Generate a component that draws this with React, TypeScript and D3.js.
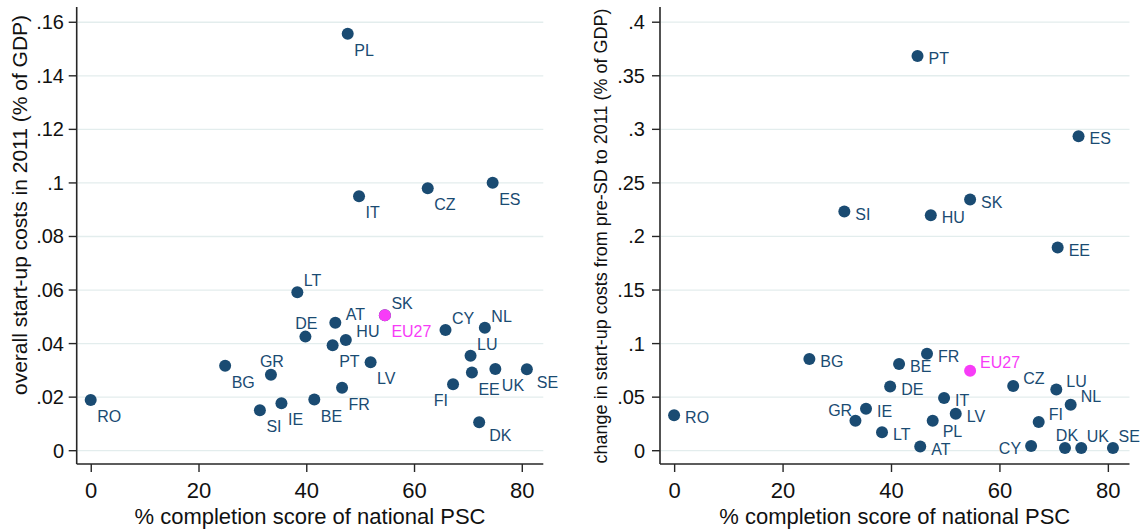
import React from 'react';
import * as d3 from 'd3';

// ---------- DATA ----------
const countries = ['RO','BG','SI','GR','IE','LT','DE','BE','PT','AT','FR','HU','PL','IT','LV','SK','CZ','CY','FI','LU','EE','DK','NL','ES','UK','SE','EU27'];
const pscScore = [-0.1, 24.85, 31.3, 33.35, 35.3, 38.25, 39.75, 41.4, 44.8, 45.3, 46.55, 47.25, 47.6, 49.7, 51.85, 54.5, 62.45, 65.75, 67.15, 70.4, 70.65, 72.0, 73.05, 74.5, 75.0, 80.85, 54.5];
const startupCost2011 = [0.0189, 0.0317, 0.0151, 0.0284, 0.0177, 0.0592, 0.0426, 0.0191, 0.0394, 0.0478, 0.0235, 0.0413, 0.1557, 0.0950, 0.0330, 0.0506, 0.0980, 0.0451, 0.0248, 0.0355, 0.0292, 0.0106, 0.0459, 0.1001, 0.0305, 0.0304, 0.0506];
const startupCostChange = [0.0330, 0.0856, 0.2233, 0.0280, 0.0392, 0.0172, 0.0600, 0.0810, 0.3685, 0.0040, 0.0905, 0.2199, 0.0280, 0.0491, 0.0346, 0.2345, 0.0604, 0.0044, 0.0268, 0.0571, 0.1897, 0.0025, 0.0428, 0.2936, 0.0025, 0.0025, 0.0747];
// marker label clock positions (Stata mlabvposition)
const labelPos2011 = [4, 4, 4, 12, 4, 1, 12, 4, 4, 2, 4, 2, 4, 4, 4, 1, 4, 1, 7, 1, 4, 5, 1, 4, 4, 5, 4];
const labelPosChange = [3, 3, 3, 11, 3, 3, 3, 3, 3, 3, 3, 3, 4, 3, 3, 3, 2, 9, 2, 2, 3, 12, 2, 3, 1, 1, 2];

const xTicks = [0, 20, 40, 60, 80];
const yTicks2011 = [0, 0.02, 0.04, 0.06, 0.08, 0.1, 0.12, 0.14, 0.16];
const yTicksChange = [0, 0.05, 0.1, 0.15, 0.2, 0.25, 0.3, 0.35, 0.4];

const xTitle = '% completion score of national PSC';
const yTitle2011 = 'overall start-up costs in 2011 (% of GDP)';
const yTitleChange = 'change in start-up costs from pre-SD to 2011 (% of GDP)';

// ---------- STYLE ----------
const NAVY = '#1a4b72';
const MAGENTA = '#f73cf7';
const GRID = '#e3eded';
const AXIS = '#262626';
const FONT = '"Liberation Sans", Arial, Helvetica, sans-serif';

type Off = { anchor: 'start' | 'middle' | 'end'; dx: number; dy: number };
const leftOffsets: Record<number, Off> = {
  1: { anchor: 'start', dx: 6.5, dy: -11.5 },
  2: { anchor: 'start', dx: 10.5, dy: -8.5 },
  4: { anchor: 'start', dx: 6.5, dy: 16.5 },
  5: { anchor: 'start', dx: 10, dy: 13 },
  7: { anchor: 'end', dx: -5, dy: 16.5 },
  12: { anchor: 'middle', dx: 1, dy: -13.5 },
};
const rightOffsets: Record<number, Off> = {
  1: { anchor: 'start', dx: 5.5, dy: -11.5 },
  2: { anchor: 'start', dx: 10, dy: -8 },
  3: { anchor: 'start', dx: 11, dy: 2.5 },
  4: { anchor: 'start', dx: 10, dy: 11 },
  9: { anchor: 'end', dx: -10, dy: 2.3 },
  11: { anchor: 'end', dx: -3.3, dy: -10.7 },
  12: { anchor: 'middle', dx: 2, dy: -12.7 },
};

const fmt = (v: number) => (v === 0 ? '0' : String(+v.toFixed(3)).replace(/^0\./, '.'));

interface PanelProps {
  x0: number; x1: number; yTop: number; yBottom: number;
  xDomain: [number, number]; yDomain: [number, number];
  yValues: number[]; yTicks: number[]; labelPos: number[]; offsets: Record<number, Off>;
  yTitle: string; yTitleX: number; yTitleY: number; yTitleSize: number;
  yTickSize: number; yTickLabelX: number;
}

function Panel(p: PanelProps) {
  const x = d3.scaleLinear().domain(p.xDomain).range([p.x0, p.x1]);
  const y = d3.scaleLinear().domain(p.yDomain).range([p.yBottom, p.yTop]);
  const order = countries.map((_, i) => i).filter(i => countries[i] !== 'EU27');
  const eu = countries.indexOf('EU27');
  const tickLen = 8;
  return (
    <g>
      {/* gridlines */}
      {p.yTicks.map(t => (
        <line key={'g' + t} x1={p.x0 + 1} x2={p.x1} y1={y(t)} y2={y(t)} stroke={GRID} strokeWidth={1.3} />
      ))}
      {/* axes */}
      <line x1={p.x0} x2={p.x0} y1={p.yTop} y2={p.yBottom} stroke={AXIS} strokeWidth={1.6} />
      <line x1={p.x0} x2={p.x1} y1={p.yBottom} y2={p.yBottom} stroke={AXIS} strokeWidth={1.6} />
      {p.yTicks.map(t => (
        <g key={'yt' + t}>
          <line x1={p.x0 - tickLen} x2={p.x0} y1={y(t)} y2={y(t)} stroke={AXIS} strokeWidth={1.4} />
          <text x={p.yTickLabelX} y={y(t)} dy="0.35em" textAnchor="end" fontSize={p.yTickSize} fill="#111">{fmt(t)}</text>
        </g>
      ))}
      {xTicks.map(t => (
        <g key={'xt' + t}>
          <line x1={x(t)} x2={x(t)} y1={p.yBottom} y2={p.yBottom + tickLen} stroke={AXIS} strokeWidth={1.4} />
          <text x={x(t)} y={497.5} textAnchor="middle" fontSize={22} fill="#111">{t}</text>
        </g>
      ))}
      <text x={(p.x0 + p.x1) / 2} y={523.5} textAnchor="middle" fontSize={22} fill="#111">{xTitle}</text>
      <text transform={`translate(${p.yTitleX},${p.yTitleY}) rotate(-90)`} textAnchor="middle" fontSize={p.yTitleSize} fill="#111">{p.yTitle}</text>
      {/* points */}
      {order.map(i => (
        <circle key={'c' + i} cx={x(pscScore[i])} cy={y(p.yValues[i])} r={6} fill={NAVY} />
      ))}
      <circle cx={x(pscScore[eu])} cy={y(p.yValues[eu])} r={6} fill={MAGENTA} />
      {countries.map((c, i) => {
        const o = p.offsets[p.labelPos[i]];
        return (
          <text key={'l' + c} x={x(pscScore[i]) + o.dx} y={y(p.yValues[i]) + o.dy} dy="0.35em"
            textAnchor={o.anchor} fontSize={16} fill={c === 'EU27' ? MAGENTA : NAVY}>{c}</text>
        );
      })}
    </g>
  );
}

export default function App() {
  return (
    <svg width={1146} height={530} viewBox="0 0 1146 530"
      style={{ position: 'absolute', left: 0, top: 0, background: '#fff', fontFamily: FONT }}>
      <rect x={0} y={0} width={1146} height={530} fill="#fff" />
      <Panel x0={76.7} x1={543.3} yTop={7} yBottom={464}
        xDomain={[-2.7, 83.9]} yDomain={[-0.00497, 0.1657]}
        yValues={startupCost2011} yTicks={yTicks2011} labelPos={labelPos2011} offsets={leftOffsets}
        yTitle={yTitle2011} yTitleX={27} yTitleY={205} yTitleSize={21}
        yTickSize={20} yTickLabelX={64} />
      <Panel x0={660} x1={1129.5} yTop={7} yBottom={464}
        xDomain={[-2.7, 83.9]} yDomain={[-0.0124, 0.4142]}
        yValues={startupCostChange} yTicks={yTicksChange} labelPos={labelPosChange} offsets={rightOffsets}
        yTitle={yTitleChange} yTitleX={607} yTitleY={236} yTitleSize={18}
        yTickSize={20} yTickLabelX={645} />
    </svg>
  );
}
